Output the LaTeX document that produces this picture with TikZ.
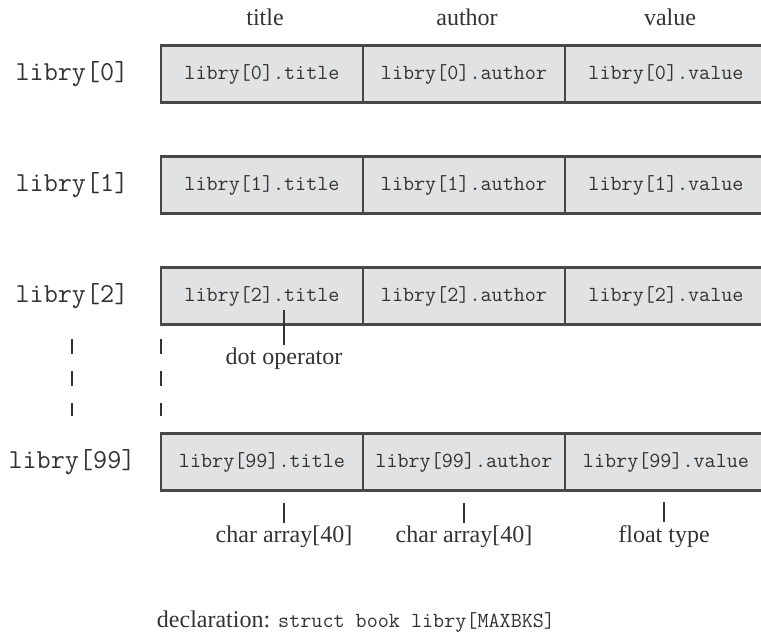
\documentclass[tikz,border=0pt]{standalone}
\usepackage{fontspec}
\setmainfont{Liberation Serif}
\usetikzlibrary{positioning}

\definecolor{cellgray}{HTML}{E1E2E4}
\definecolor{edgegray}{HTML}{484848}
\definecolor{inkgray}{HTML}{333333}

\newcommand\cellfont{\ttfamily\fontsize{21.5}{24}\selectfont}
\newcommand\labelfont{\ttfamily\fontsize{27.4}{30}\selectfont}
\newcommand\capfont{\rmfamily\fontsize{24}{27}\selectfont}

\begin{document}
\begin{tikzpicture}[
        x=1pt, y=-1pt,
        cell/.style={draw=edgegray, fill=cellgray, line width=2.8pt, minimum width=202pt, minimum height=57pt, inner sep=0pt, outer sep=0pt, font=\cellfont, text=inkgray},
        rowlabel/.style={font=\labelfont, text=inkgray},
        caption/.style={font=\capfont, text=inkgray},
        tick/.style={draw=inkgray, line width=1.2pt},
        gap/.style={draw=inkgray, line width=1.2pt, dash pattern=on 15pt off 17pt}
    ]
    \useasboundingbox (0,0) rectangle (761,634);

    % array elements
    \node[cell] (T0) at (262,74) {libry[0].title};
    \node[cell, right=0pt of T0] (A0) {libry[0].author};
    \node[cell, right=0pt of A0] (V0) {libry[0].value};
    \node[cell] (T1) at (262,185) {libry[1].title};
    \node[cell, right=0pt of T1] (A1) {libry[1].author};
    \node[cell, right=0pt of A1] (V1) {libry[1].value};
    \node[cell] (T2) at (262,296) {libry[2].title};
    \node[cell, right=0pt of T2] (A2) {libry[2].author};
    \node[cell, right=0pt of A2] (V2) {libry[2].value};
    \node[cell] (T99) at (262,462) {libry[99].title};
    \node[cell, right=0pt of T99] (A99) {libry[99].author};
    \node[cell, right=0pt of A99] (V99) {libry[99].value};

    % row names
    \node[rowlabel] (L0) at (72,74) {libry[0]};
    \node[rowlabel] (L1) at (72,185) {libry[1]};
    \node[rowlabel] (L2) at (72,296) {libry[2]};
    \node[rowlabel] (L99) at (72,462) {libry[99]};

    % member names
    \node[caption] (HTitle) at (265,17) {title};
    \node[caption] (HAuthor) at (467,17) {author};
    \node[caption] (HValue) at (670,17) {value};

    % skipped rows
    \draw[gap] (L2 |- 0,339) -- (L2 |- 0,416);
    \draw[gap] (T2.west |- 0,339) -- (T2.west |- 0,416);

    % dot operator
    \coordinate (Dot) at (284,310);
    \node[caption] (DotOp) at (284,359) {dot operator};
    \draw[tick] (Dot) -- (DotOp.north);

    % member types
    \node[caption] (TypeTitle) at (284,537) {char array[40]};
    \node[caption] (TypeAuthor) at (464,537) {char array[40]};
    \node[caption] (TypeValue) at (664,537) {float type};
    \draw[tick] (TypeTitle.north) -- ++(0,-20);
    \draw[tick] (TypeAuthor.north) -- ++(0,-20);
    \draw[tick] (TypeValue.north) -- ++(0,-20);

    \node[caption] (Decl) at (356,622) {declaration: {\cellfont struct book libry[MAXBKS]}};

\end{tikzpicture}
\end{document}
